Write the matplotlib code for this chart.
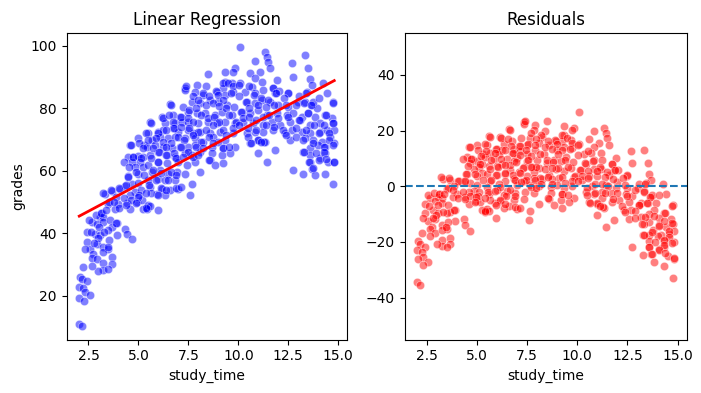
import numpy as np
import matplotlib
matplotlib.use("Agg")
import matplotlib.pyplot as plt

# study_time / grades pairs (left panel)
study_time = [
    # low range
    3.34, 3.67, 4.09, 4.34, 4.67, 5.00, 4.84, 5.12, 4.59, 4.42, 4.59, 4.95, 5.17, 5.42, 5.05,
    3.50, 4.00, 3.84, 3.17, 3.09, 3.25, 2.67, 2.92, 3.25, 3.59, 3.92, 3.67, 2.42, 2.84, 3.09,
    3.50, 3.92, 4.34, 4.42, 4.67, 2.42, 2.92, 2.59, 2.34, 3.25, 3.50, 2.75, 2.67, 2.92, 3.25,
    3.67, 3.67, 3.25, 3.25, 3.00, 3.50, 2.25, 2.67, 2.09, 2.17, 2.42, 2.04, 2.25, 2.34, 2.59,
    2.05, 2.30, 2.04, 2.17, 5.25, 5.50,
    5.00, 4.59, 5.29, 4.75, 4.50, 5.00, 5.25, 4.67, 5.09, 4.84, 5.25, 4.50, 5.00,
    10.09, 9.84, 9.34, 9.75, 8.50, 7.92, 9.34, 9.70, 10.09, 7.34, 9.25,
    5.42, 5.59, 5.97,
    # middle range
    7.34, 7.84, 8.25, 8.92, 9.34, 9.75,
    6.59, 7.67, 8.09, 8.59, 9.00, 9.42,
    6.17, 6.75, 7.09, 7.50, 7.92, 8.34, 8.84, 9.17, 9.67,
    5.59, 6.34, 6.84, 7.17, 7.50, 8.00, 8.50, 8.92, 9.34, 9.84,
    5.50, 6.00, 6.25, 6.75, 7.00, 7.50, 7.75, 8.09, 8.59, 9.09, 9.75,
    5.67, 6.09, 6.50, 6.84, 7.34, 7.84, 8.25, 8.75, 9.34,
    5.42, 5.84, 6.25, 6.67, 7.09, 7.50, 7.84, 8.67, 9.25, 9.84,
    5.59, 6.00, 6.42, 6.84, 7.34, 7.67, 8.09, 8.67, 9.17, 9.59,
    5.50, 6.00, 6.42, 7.00, 7.42, 7.84, 8.59, 8.84, 9.25,
    5.67, 6.09, 6.50, 6.92, 7.34, 8.09,
    5.50, 6.00, 6.34, 6.84, 7.67,
    5.59, 6.17, 6.59, 7.00, 7.59,
    5.92, 6.34,
    # high range
    11.34, 11.42, 11.50, 11.59, 10.84, 13.34, 12.67, 10.59, 11.09, 13.50, 12.75, 10.84, 11.17,
    11.92, 13.59, 10.67, 13.67, 14.25, 11.75,
    10.34, 10.84, 11.84, 12.50, 13.42, 14.42, 14.75,
    10.42, 10.84, 11.17, 11.59, 12.00, 12.50, 13.00, 13.34, 13.67, 13.92,
    10.17, 10.59, 11.00, 11.42, 11.92, 12.42, 12.75, 13.17, 13.50, 13.84, 14.34, 14.67,
    10.25, 10.75, 11.25, 11.67, 12.09, 12.59, 13.09, 13.59, 14.09, 14.75,
    10.42, 10.84, 11.25, 11.75, 12.34, 12.67, 13.17, 13.59, 14.09, 14.42, 14.80, 14.59,
    10.59, 11.00, 11.34, 12.59, 13.34, 13.75, 14.17, 14.80,
    11.84, 11.00, 13.25, 13.59, 14.00, 14.34, 14.34, 13.59, 14.09, 14.50, 14.80, 13.59, 11.42,
    12.75, 13.25, 13.67, 13.84, 14.34, 14.75,
    # dense band, second reading
    7.39, 8.39, 8.22, 8.89, 9.22, 9.47, 9.72, 10.05, 10.55, 11.22, 11.72, 12.05, 12.47,
    7.72, 7.97, 8.55, 8.97, 9.22, 9.64, 10.05, 10.39, 10.80, 11.14, 11.47, 11.89, 12.30,
    13.05, 13.39, 13.72, 14.05,
    6.64, 7.22, 7.55, 7.89, 8.39, 8.72, 9.05, 9.39, 9.80, 10.14, 10.55, 10.97, 11.39,
    11.80, 12.39, 12.89, 13.30, 13.64, 14.72,
    5.64, 6.22, 6.55, 6.72, 7.14, 7.47, 7.72, 8.14, 8.47, 8.80, 9.05, 9.55, 9.89,
    10.22, 10.55, 10.89, 11.22, 11.55, 11.97, 12.47, 13.05, 13.47, 14.39,
    5.39, 5.97, 6.39, 6.80, 7.14, 7.55, 7.97, 8.39, 8.72, 9.22, 9.72, 10.05, 10.47,
    10.89, 11.39, 11.80, 12.22, 12.89, 13.39, 13.80, 14.30, 14.72,
    5.05, 5.47, 5.89, 6.22, 6.64, 6.97, 7.30, 7.72, 8.14, 8.55, 8.97, 9.39, 10.47,
    10.97, 11.30, 12.39, 12.89, 13.22, 14.05, 14.55, 14.55,
    4.64, 5.22, 5.72, 6.05, 6.39, 6.80, 7.14, 7.47, 7.89, 8.22, 8.72, 9.22, 9.55,
    10.64, 11.14, 13.72, 14.30, 14.72, 13.30, 13.89, 14.30,
    4.30, 4.72, 5.14, 5.64, 5.97, 6.39, 6.89, 7.22, 7.72, 7.97, 8.55, 13.55, 14.05,
    14.39, 14.80,
    4.47, 4.89, 5.30, 5.72, 6.14, 6.64, 6.47, 6.89, 4.55, 13.72,
    5.55, 5.89, 6.14, 6.39, 6.89, 7.14, 5.64, 5.97,
    3.22, 3.64, 4.05, 4.39, 3.89, 3.55, 3.80, 4.30, 4.64, 4.97, 5.39, 4.05, 4.39,
    4.89, 5.39,
    2.55, 2.89, 3.14, 3.39, 3.05, 3.30, 2.64, 2.97, 3.55, 2.80, 3.47, 3.89,
]

grades = [
    52.7, 53.5, 54.3, 55.1, 55.7, 56.1, 53.3, 53.8, 52.2, 49.7, 47.9, 50.0, 50.6, 48.4, 52.2,
    49.5, 49.5, 47.9, 46.5, 45.2, 45.4, 43.6, 43.1, 43.6, 44.2, 43.4, 42.0, 40.4, 39.9, 39.4,
    41.0, 39.4, 41.5, 39.7, 38.3, 37.2, 36.7, 35.1, 35.1, 35.6, 35.1, 33.5, 32.2, 31.9, 34.0,
    32.4, 30.3, 30.5, 28.3, 28.1, 28.7, 29.4, 29.7, 26.0, 25.4, 24.9, 22.8, 22.6, 21.2, 20.3,
    19.4, 18.3, 11.0, 10.5, 47.9, 49.0,
    70.4, 68.4, 68.2, 64.5, 64.5, 64.7, 64.5, 62.9, 62.9, 61.3, 61.3, 58.3, 59.1,
    99.7, 92.8, 91.8, 91.8, 91.0, 87.5, 88.6, 88.2, 88.0, 86.7, 86.4,
    47.9, 48.7, 47.6,
    85.9, 85.3, 84.3, 85.3, 84.3, 85.3,
    81.4, 82.1, 81.6, 82.7, 82.1, 81.1,
    77.3, 77.9, 77.3, 78.9, 78.4, 78.4, 77.9, 78.9, 77.9,
    75.7, 75.2, 75.2, 75.7, 75.7, 75.2, 75.7, 75.2, 75.7, 75.2,
    72.0, 72.5, 73.0, 73.6, 72.5, 73.0, 72.0, 72.5, 72.0, 72.5, 72.0,
    69.8, 70.9, 70.4, 70.9, 70.4, 70.4, 69.3, 70.9, 69.8,
    67.7, 68.2, 67.7, 67.2, 67.7, 67.7, 68.2, 67.7, 67.2, 67.7,
    65.0, 66.1, 65.0, 64.5, 65.6, 65.0, 66.1, 65.6, 65.0, 65.6,
    61.8, 62.9, 62.4, 62.9, 61.8, 62.9, 63.4, 61.8, 62.4,
    59.7, 60.2, 59.1, 59.7, 59.1, 59.7,
    57.0, 57.5, 57.0, 57.0, 55.9,
    54.9, 54.3, 53.8, 54.3, 52.2,
    52.7, 52.2,
    98.2, 96.6, 95.0, 92.8, 95.3, 97.1, 94.4, 91.4, 91.8, 92.8, 90.2, 89.6, 88.6,
    89.1, 89.3, 86.9, 87.5, 88.0, 86.4,
    85.3, 84.8, 84.8, 84.8, 85.3, 84.8, 82.1,
    82.1, 81.6, 82.7, 82.1, 81.1, 80.5, 82.1, 82.1, 81.1, 80.0,
    78.9, 78.4, 79.5, 77.9, 78.4, 77.9, 78.4, 77.3, 78.4, 77.3, 77.9, 76.8,
    75.7, 75.2, 74.7, 75.7, 74.7, 75.7, 76.3, 74.7, 75.2, 75.2,
    72.0, 72.5, 72.5, 73.0, 72.0, 73.0, 72.5, 72.0, 72.5, 73.0, 73.0, 70.9,
    68.8, 69.8, 69.3, 69.8, 70.4, 69.8, 69.3, 68.8,
    66.6, 65.6, 66.1, 67.2, 68.2, 67.7, 65.6, 65.0, 64.0, 62.9, 62.9, 62.9, 62.9,
    60.2, 59.1, 60.7, 58.6, 58.9, 55.7,
    # dense band, second reading
    87.1, 87.1, 85.1, 85.5, 88.3, 88.1, 87.1, 87.6, 87.1, 86.0, 86.5, 85.5, 84.9,
    83.9, 82.8, 83.9, 84.4, 82.8, 84.9, 83.9, 82.2, 84.4, 83.3, 82.8, 84.9, 83.3,
    83.9, 84.9, 82.2, 83.3,
    81.2, 80.6, 79.6, 80.1, 81.2, 81.7, 80.9, 80.1, 80.6, 79.0, 80.1, 81.2, 80.6,
    81.2, 81.2, 81.2, 81.7, 81.2, 81.7,
    75.5, 76.9, 78.0, 75.8, 77.4, 76.9, 75.8, 78.0, 76.9, 77.4, 75.8, 78.0, 75.8,
    76.9, 77.4, 76.4, 77.4, 78.0, 76.9, 77.4, 76.4, 78.5, 78.0,
    72.1, 72.1, 73.2, 73.7, 74.2, 73.7, 72.6, 73.2, 74.8, 73.2, 73.7, 74.8, 73.7,
    73.2, 74.8, 74.2, 73.2, 73.7, 73.2, 74.8, 74.8, 75.3,
    68.9, 69.9, 70.5, 69.4, 68.9, 71.0, 69.9, 71.6, 69.4, 71.0, 69.4, 71.6, 71.0,
    69.9, 69.4, 71.6, 71.0, 69.9, 72.1, 72.1, 69.9,
    68.3, 67.3, 67.3, 66.2, 67.8, 65.7, 67.8, 66.2, 67.8, 67.3, 68.9, 67.3, 67.8,
    68.9, 69.4, 68.9, 67.8, 68.3, 66.2, 65.7, 66.2,
    63.0, 64.6, 64.1, 64.1, 63.0, 65.1, 64.1, 64.6, 64.6, 65.1, 63.5, 63.0, 63.5,
    63.7, 63.0,
    58.2, 59.8, 58.7, 60.3, 59.3, 59.8, 57.1, 58.7, 61.4, 60.9,
    55.5, 57.1, 54.4, 53.9, 54.4, 55.0, 52.8, 52.3,
    52.8, 53.9, 54.4, 55.5, 51.8, 50.2, 50.2, 51.2, 50.7, 51.8, 52.8, 48.0, 49.1,
    49.6, 48.0,
    44.3, 45.9, 46.4, 47.5, 42.1, 40.5, 40.5, 38.4, 37.9, 36.8, 35.7, 43.4,
]

# fitted regression line (grades = intercept + slope * study_time)
line_intercept = 38.6
line_slope = 3.40

x = np.array(study_time)
y = np.array(grades)
pred = line_intercept + line_slope * x
resid = y - pred
order = np.argsort(x)

fig = plt.figure(figsize=(7.01, 3.93), dpi=100)
ax1 = fig.add_axes([66.5 / 701, 53.5 / 393, 280.5 / 701, 306.5 / 393])
ax2 = fig.add_axes([404.5 / 701, 53.5 / 393, 282 / 701, 306.5 / 393])

ax1.scatter(x, y, s=36, color="blue", alpha=0.5, edgecolors="white", linewidths=0.5)
ax1.plot(x[order], pred[order], color="red", linewidth=2)
ax1.set_title("Linear Regression")
ax1.set_xlabel("study_time")
ax1.set_ylabel("grades")

ax2.scatter(x, resid, s=36, color="red", alpha=0.5, edgecolors="white", linewidths=0.5)
ax2.axhline(0, linestyle="--", color="#1f77b4")
ax2.set_ylim(-55, 55)
ax2.set_title("Residuals")
ax2.set_xlabel("study_time")

for ax in (ax1, ax2):
    ax.set_xticks([2.5, 5.0, 7.5, 10.0, 12.5, 15.0])

fig.savefig("out.png", dpi=100)
